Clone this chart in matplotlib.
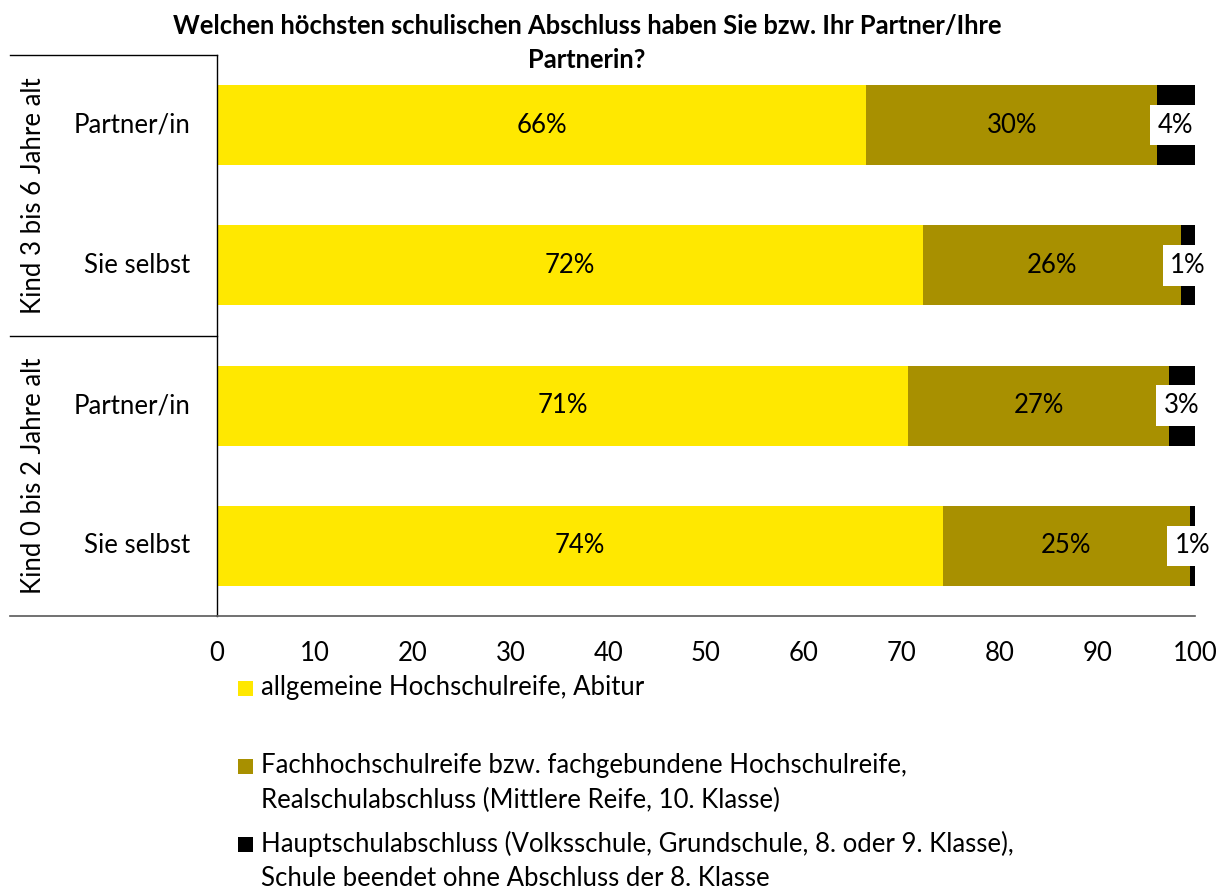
import math
import matplotlib
matplotlib.use("Agg")
import matplotlib.pyplot as plt
from matplotlib.patches import Rectangle
from matplotlib.lines import Line2D

plt.rcParams['font.family'] = ['Lato', 'DejaVu Sans']

# Data (bottom to top)
categories = ["Sie selbst", "Partner/in", "Sie selbst", "Partner/in"]
groups = ["Kind 0 bis 2 Jahre alt", "Kind 3 bis 6 Jahre alt"]
abitur = [74.2, 70.7, 72.2, 66.4]
fachhoch = [25.3, 26.6, 26.4, 29.7]
haupt = [0.5, 2.7, 1.4, 3.9]
series_names = [
    "allgemeine Hochschulreife, Abitur",
    "Fachhochschulreife bzw. fachgebundene Hochschulreife,\nRealschulabschluss (Mittlere Reife, 10. Klasse)",
    "Hauptschulabschluss (Volksschule, Grundschule, 8. oder 9. Klasse),\nSchule beendet ohne Abschluss der 8. Klasse",
]
colors = ["#FFE800", "#A89000", "#000000"]
xticks = [0, 10, 20, 30, 40, 50, 60, 70, 80, 90, 100]
title = "Welchen höchsten schulischen Abschluss haben Sie bzw. Ihr Partner/Ihre\nPartnerin?"

W, H = 1229, 892
fig = plt.figure(figsize=(W / 100, H / 100), dpi=100)
ax = fig.add_axes([217 / W, 1 - 616 / H, (1195 - 217) / W, (616 - 55) / H])

ypos = list(range(len(categories)))
bh = 0.57
left = [0.0] * len(categories)
for vals, col in zip([abitur, fachhoch, haupt], colors):
    ax.barh(ypos, vals, left=left, height=bh, color=col, edgecolor='none')
    left = [l + v for l, v in zip(left, vals)]

def lab(v):
    return f"{int(math.floor(v + 0.5))}%"

fs = 18.5
for i in ypos:
    ax.text(abitur[i] / 2, i, lab(abitur[i]), ha='center', va='center', fontsize=fs, color='black')
    ax.text(abitur[i] + fachhoch[i] / 2, i, lab(fachhoch[i]), ha='center', va='center', fontsize=fs, color='black')
    cx = abitur[i] + fachhoch[i] + haupt[i] / 2
    ax.text(cx, i, lab(haupt[i]), ha='center', va='center', fontsize=fs, color='black',
            bbox=dict(facecolor='white', edgecolor='none', pad=5.5), clip_on=False)

ax.set_xlim(0, 100)
ax.set_ylim(-0.5, len(categories) - 0.5)
ax.set_xticks(xticks)
ax.set_xticklabels([str(t) for t in xticks], fontsize=fs)
ax.tick_params(axis='x', length=0, pad=18)
ax.set_yticks([])
for s in ['top', 'right']:
    ax.spines[s].set_visible(False)
ax.spines['bottom'].set_color('#595959')
ax.spines['bottom'].set_linewidth(1.2)
ax.spines['left'].set_color('black')
ax.spines['left'].set_linewidth(1.0)

px = 100 / (1195 - 217)  # data units per pixel
# category labels
for i, c in enumerate(categories):
    ax.text(-27 * px, i, c, fontsize=fs, ha='right', va='center')

# group labels
for g_i, g in enumerate(groups):
    ax.text(-184 * px, 2 * g_i + 0.5, g, fontsize=fs, ha='center', va='center', rotation=90)

def fline(x0, y0, x1, y1, color='black', lw=1.0):
    fig.add_artist(Line2D([x0 / W, x1 / W], [1 - y0 / H, 1 - y1 / H], color=color, lw=lw,
                          transform=fig.transFigure))

fline(10, 55, 217, 55)
fline(10, 336, 217, 336)
fline(10, 616, 217, 616, color='#595959', lw=1.2)

fig.text(587 / W, 1 - 43 / H, title, fontsize=18.4, fontweight='bold', ha='center', va='center',
         linespacing=1.5)

# legend (manual, Excel-like spacing)
leg_y = [688, 766, 844]
line_h = 34
sq = 15
for name, col, y in zip(series_names, colors, leg_y):
    fig.add_artist(Rectangle((238 / W, 1 - (y + sq / 2) / H), sq / W, sq / H,
                             facecolor=col, edgecolor='none', transform=fig.transFigure))
    for k, line in enumerate(name.split("\n")):
        fig.text(261 / W, 1 - (y + k * line_h) / H, line, fontsize=fs, ha='left', va='center')

fig.savefig("out.png", dpi=100)
